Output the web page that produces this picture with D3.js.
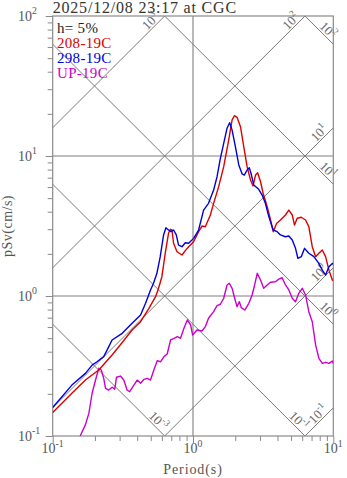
<!DOCTYPE html>
<html><head><meta charset="utf-8">
<script src="https://cdn.jsdelivr.net/npm/d3@7"></script>
<style>body{margin:0;background:#fff}svg{display:block}</style>
</head><body><svg id="c" width="347" height="478"></svg>
<script>
// ---- data ----
const title = "2025/12/08 23:17 at CGC";
const damping = "h= 5%";
const seriesNames = ["208-19C", "298-19C", "UP-19C"];
const seriesColors = ["#dd0000", "#0000dd", "#cc00cc"];

const redT = [0.1,0.137,0.171,0.213,0.265,0.296,0.368,0.423,0.485,0.541,0.568,0.6,0.634,0.669,0.689,0.708,0.727,0.769,0.835,0.881,0.931,1.01,1.096,1.159,1.224,1.33,1.403,1.524,1.655,1.796,1.9,1.972,2.06,2.18,2.3,2.43,2.57,2.68,2.79,2.89,3.03,3.16,3.38,3.57,3.73,3.94,4.2,4.56,4.82,5.1,5.29,5.53,5.91,6.34,6.69,7.08,7.48,7.89,8.35,8.81,9.31,9.84,10];
const redSv = [0.147,0.202,0.251,0.296,0.379,0.434,0.572,0.655,0.817,0.989,1.135,1.374,2.018,2.805,2.994,2.96,2.38,2.07,1.963,2.11,2.25,2.44,2.88,3.16,3.126,3.79,4.59,6.04,8.39,13.0,18.1,19.4,18.9,16.2,11.65,8.39,6.74,6.11,7.31,7.6,6.55,5.42,4.35,3.49,2.88,3.30,3.49,3.79,4.11,3.79,3.21,3.59,3.65,3.49,3.13,2.25,1.91,2.02,2.13,1.91,1.53,1.30,1.285];

const blueT = [0.1,0.137,0.171,0.191,0.207,0.231,0.244,0.265,0.313,0.368,0.423,0.459,0.498,0.523,0.553,0.584,0.617,0.641,0.669,0.696,0.727,0.76,0.789,0.835,0.881,0.931,1.01,1.096,1.19,1.29,1.403,1.484,1.567,1.655,1.749,1.825,1.9,2.005,2.12,2.24,2.32,2.43,2.52,2.61,2.71,2.94,3.11,3.28,3.47,3.73,3.98,4.2,4.56,4.82,5.1,5.38,5.59,5.91,6.24,6.69,7.27,7.89,8.35,8.81,9.31,9.84,10];
const blueSv = [0.16,0.231,0.28,0.321,0.339,0.369,0.411,0.485,0.541,0.638,0.732,0.887,1.104,1.233,1.452,1.91,2.73,3.07,2.96,2.88,2.96,2.73,2.31,2.25,2.40,2.38,2.58,2.96,4.11,4.59,5.71,7.11,9.63,12.3,15.8,17.3,15.3,11.65,8.63,7.44,7.31,7.94,8.25,7.31,6.21,5.78,5.26,4.59,3.69,2.96,2.88,2.73,2.65,2.68,2.51,2.19,1.86,1.91,2.19,2.02,1.91,1.71,1.53,1.41,1.62,1.71,1.69];

const upT = [0.157,0.171,0.181,0.191,0.202,0.213,0.222,0.231,0.238,0.251,0.265,0.277,0.285,0.304,0.321,0.339,0.353,0.379,0.4,0.423,0.447,0.472,0.498,0.526,0.556,0.587,0.621,0.655,0.692,0.732,0.773,0.815,0.862,0.911,0.962,0.994,1.068,1.159,1.224,1.29,1.403,1.484,1.567,1.655,1.749,1.816,1.9,1.982,2.06,2.14,2.21,2.34,2.5,2.64,2.75,2.87,3.03,3.19,3.38,3.57,3.87,4.09,4.32,4.56,4.82,5.1,5.38,5.68,6.01,6.34,6.69,7.08,7.48,7.89,8.35,8.81,9.31,9.84,10];
const upSv = [0.1,0.12,0.145,0.202,0.251,0.305,0.296,0.258,0.219,0.213,0.223,0.216,0.263,0.268,0.251,0.213,0.207,0.231,0.251,0.238,0.254,0.258,0.251,0.296,0.345,0.339,0.369,0.385,0.485,0.499,0.512,0.499,0.588,0.674,0.621,0.526,0.572,0.562,0.604,0.693,0.773,0.853,0.873,0.963,1.199,1.233,1.135,0.963,0.839,0.911,0.825,0.794,0.887,1.017,1.199,1.452,1.30,1.135,1.199,1.253,1.265,1.32,1.35,1.199,1.104,0.963,0.911,1.045,1.135,1.017,0.773,0.655,0.447,0.359,0.33,0.336,0.33,0.343,0.33];

const xMajor = [0.1, 1, 10];
const xMajorExp = ["-1", "0", "1"];
const yMajor = [0.1, 1, 10, 100];
const yMajorExp = ["-1", "0", "1", "2"];
const accValues = [1000, 100, 10, 1, 0.1];          // pSa (cm/s^2)
const accLabels = ["3", "2", "1", "0", "-1"];
const dispValues = [100, 10, 1, 0.1, 0.01];         // pSd (cm)
const dispLabels = ["2", "1", "0", "-1", "-3"];
const xLabel = "Period(s)";
const yLabel = "pSv(cm/s)";

// ---- layout ----
const m = {l: 52.7, r: 333.3, t: 16, b: 436};
const svg = d3.select("#c");
const x = d3.scaleLog().domain([0.1, 10]).range([m.l, m.r]);
const y = d3.scaleLog().domain([0.1, 100]).range([m.b, m.t]);
const serif = "'Liberation Serif','Times New Roman',serif";
const TWO_PI = 2 * Math.PI;

svg.append("defs").append("clipPath").attr("id", "clip")
  .append("rect").attr("x", m.l).attr("y", m.t).attr("width", m.r - m.l).attr("height", m.b - m.t);

function pow10(sel, exp, fs) {
  sel.append("tspan").text("10");
  sel.append("tspan").attr("dy", -fs * 0.45).attr("font-size", fs * 0.7).text(exp);
}

// grid lines
const grid = svg.append("g").attr("stroke", "#a8a8a8").attr("stroke-width", 1.6);
[1].forEach(t => grid.append("line").attr("x1", x(t)).attr("x2", x(t)).attr("y1", m.t).attr("y2", m.b));
[1, 10].forEach(v => grid.append("line").attr("x1", m.l).attr("x2", m.r).attr("y1", y(v)).attr("y2", y(v)));

// tripartite diagonals
const diag = svg.append("g").attr("clip-path", "url(#clip)").attr("stroke", "#7a7a7a").attr("stroke-width", 1).attr("fill", "none");
const lineGen = d3.line().x(d => x(d[0])).y(d => y(d[1]));
accValues.forEach(a => {
  const pts = [0.01, 100].map(T => [T, a * T / TWO_PI]);
  diag.append("path").attr("d", lineGen(pts));
});
dispValues.forEach(dv => {
  const pts = [0.01, 100].map(T => [T, TWO_PI * dv / T]);
  diag.append("path").attr("d", lineGen(pts));
});

// diagonal labels
const dfs = 13;
const lab = svg.append("g").attr("font-family", serif).attr("font-size", dfs).attr("fill", "#666");
const dOff = 5, bOff = -2;
accValues.forEach((a, i) => {
  const Tend = Math.min(10, 100 * TWO_PI / a);
  const ex = x(Tend), ey = y(a * Tend / TWO_PI);
  const px = ex - dOff / Math.SQRT2, py = ey + dOff / Math.SQRT2;
  const t = lab.append("text").attr("transform", `translate(${px},${py}) rotate(-45)`)
    .attr("text-anchor", "end").attr("y", bOff);
  pow10(t, accLabels[i], dfs);
});
dispValues.forEach((dv, i) => {
  const Tend = Math.min(10, TWO_PI * dv / 0.1);
  const ex = x(Tend), ey = y(TWO_PI * dv / Tend);
  const px = ex - dOff / Math.SQRT2, py = ey - dOff / Math.SQRT2;
  const t = lab.append("text").attr("transform", `translate(${px},${py}) rotate(45)`)
    .attr("text-anchor", "end").attr("y", bOff);
  pow10(t, dispLabels[i], dfs);
});

// frame
svg.append("rect").attr("x", m.l).attr("y", m.t).attr("width", m.r - m.l).attr("height", m.b - m.t)
  .attr("fill", "none").attr("stroke", "#8a8a8a").attr("stroke-width", 1.2);

// ticks
const minorX = [];
[0.1, 1].forEach(d => { for (let k = 2; k <= 9; k++) minorX.push(d * k); });
const minorY = [];
[0.1, 1, 10].forEach(d => { for (let k = 2; k <= 9; k++) minorY.push(d * k); });
const xAx = svg.append("g").attr("transform", `translate(0,${m.b})`)
  .call(d3.axisBottom(x).tickValues(minorX).tickSize(5).tickFormat(""));
const xAx2 = svg.append("g").attr("transform", `translate(0,${m.b})`)
  .call(d3.axisBottom(x).tickValues(xMajor).tickSize(7).tickFormat(""));
const yAx = svg.append("g").attr("transform", `translate(${m.l},0)`)
  .call(d3.axisLeft(y).tickValues(minorY).tickSize(5).tickFormat(""));
const yAx2 = svg.append("g").attr("transform", `translate(${m.l},0)`)
  .call(d3.axisLeft(y).tickValues(yMajor).tickSize(7).tickFormat(""));
[xAx, xAx2, yAx, yAx2].forEach(g => {
  g.select(".domain").remove();
  g.selectAll("line").attr("stroke", "#8a8a8a").attr("stroke-width", 1);
});

// tick labels
const tl = svg.append("g").attr("font-family", serif).attr("font-size", 14).attr("fill", "#555");
xMajor.forEach((v, i) => {
  const t = tl.append("text").attr("x", x(v)).attr("y", m.b + 17).attr("text-anchor", "middle");
  pow10(t, xMajorExp[i], 14);
});
yMajor.forEach((v, i) => {
  const t = tl.append("text").attr("x", 18).attr("y", y(v) + 4.5).attr("text-anchor", "start");
  pow10(t, yMajorExp[i], 14);
});

// axis titles
svg.append("text").attr("x", x(1)).attr("y", 474).attr("text-anchor", "middle")
  .attr("font-family", serif).attr("font-size", 14).attr("letter-spacing", 0.9).attr("fill", "#555").text(xLabel);
svg.append("text").attr("transform", `translate(12,${(m.t + m.b) / 2}) rotate(-90)`).attr("text-anchor", "middle")
  .attr("font-family", serif).attr("font-size", 14).attr("letter-spacing", 0.5).attr("fill", "#555").text(yLabel);

// title
svg.append("text").attr("x", m.l).attr("y", 12.5).attr("font-family", serif).attr("font-size", 16)
  .attr("letter-spacing", 0.8).attr("fill", "#333").text(title);

// curves
const plot = svg.append("g").attr("clip-path", "url(#clip)").attr("fill", "none").attr("stroke-width", 1.4)
  .attr("stroke-linejoin", "round");
const series = [[redT, redSv], [blueT, blueSv], [upT, upSv]];
[2, 0, 1].forEach(i => {
  const [T, S] = series[i];
  plot.append("path").attr("stroke", seriesColors[i]).attr("d", lineGen(T.map((t, j) => [t, S[j]])));
});

// legend
const lg = svg.append("g").attr("font-family", serif).attr("font-size", 15).attr("letter-spacing", 0.3);
lg.append("text").attr("x", 57).attr("y", 33).attr("fill", "#222").text(damping);
seriesNames.forEach((n, i) => lg.append("text").attr("x", 57).attr("y", 48 + i * 15).attr("fill", seriesColors[i]).text(n));
</script></body></html>
